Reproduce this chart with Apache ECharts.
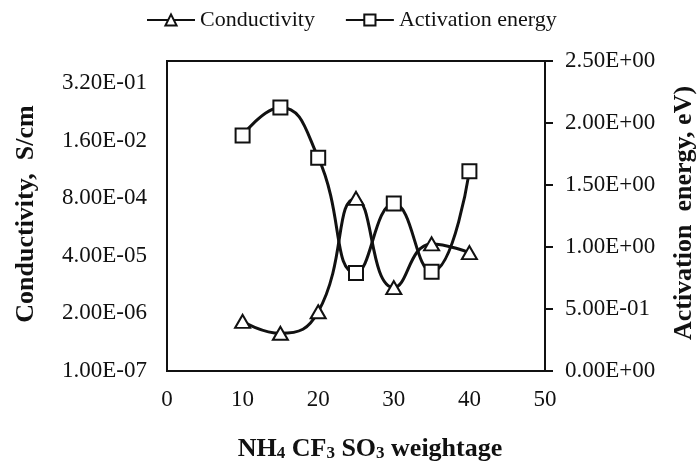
<!DOCTYPE html>
<html>
<head>
<meta charset="utf-8">
<script src="https://cdn.jsdelivr.net/npm/echarts@6/dist/echarts.min.js"></script>
<style>
  html, body { margin: 0; padding: 0; background: #fff; }
  #chart { width: 697px; height: 468px; }
</style>
</head>
<body>
<div id="chart"></div>
<script>
// NH4CF3SO3 content (wt%)
const weightage = [10, 15, 20, 25, 30, 35, 40];
// Conductivity, S/cm (log scale, left axis)
const conductivity = [1.32e-6, 7.1e-7, 2.18e-6, 7.9e-4, 7.65e-6, 7.4e-5, 4.7e-5];
// Activation energy, eV (right axis)
const activationEnergy = [1.90, 2.125, 1.72, 0.79, 1.35, 0.80, 1.61];

// Tick labels
const conductivityTickLabels = ['1.00E-07', '2.00E-06', '4.00E-05', '8.00E-04', '1.60E-02', '3.20E-01'];
const energyTickLabels = ['0.00E+00', '5.00E-01', '1.00E+00', '1.50E+00', '2.00E+00', '2.50E+00'];

const condMin = 1e-7, condMax = 1, condStep = 20;
// number of x20 steps spanned by the log axis
const condSteps = Math.log(condMax / condMin) / Math.log(condStep);

const FONT = "'Liberation Serif', 'Times New Roman', serif";
const INK = '#111';

const chart = echarts.init(document.getElementById('chart'), null, { renderer: 'canvas' });

chart.setOption({
  animation: false,
  backgroundColor: '#fff',
  textStyle: { fontFamily: FONT, color: INK },
  legend: {
    left: 141,
    top: 4,
    itemWidth: 48,
    itemHeight: 14,
    itemGap: 30,
    textStyle: { fontFamily: FONT, fontSize: 22, color: INK },
    data: ['Conductivity', 'Activation energy']
  },
  grid: {
    left: 167, right: 152, top: 61, bottom: 97,
    show: true, borderColor: INK, borderWidth: 2, backgroundColor: 'transparent'
  },
  xAxis: {
    type: 'value', min: 0, max: 50, interval: 10,
    axisLine: { show: true, lineStyle: { color: INK, width: 2 } },
    axisTick: { show: false },
    splitLine: { show: false },
    axisLabel: { fontFamily: FONT, fontSize: 23, color: INK, margin: 17 }
  },
  yAxis: [
    {
      // data axis for conductivity
      type: 'log', logBase: 10, min: condMin, max: condMax,
      position: 'left',
      axisLine: { show: true, lineStyle: { color: INK, width: 2 } },
      axisTick: { show: false },
      axisLabel: { show: false },
      splitLine: { show: false }
    },
    {
      // label axis: one tick per factor of 20
      type: 'value', min: 0, max: condSteps, interval: 1,
      position: 'left',
      axisLine: { show: false },
      axisTick: { show: false },
      splitLine: { show: false },
      axisLabel: {
        fontFamily: FONT, fontSize: 23, color: INK, margin: 20,
        showMaxLabel: false,
        formatter: v => {
          const k = Math.round(v);
          return Math.abs(v - k) < 1e-6 && conductivityTickLabels[k] ? conductivityTickLabels[k] : '';
        }
      }
    },
    {
      type: 'value', min: 0, max: 2.5, interval: 0.5,
      position: 'right',
      axisLine: { show: true, lineStyle: { color: INK, width: 2 } },
      axisTick: { show: true, inside: false, length: 8, lineStyle: { color: INK, width: 2 } },
      splitLine: { show: false },
      axisLabel: {
        fontFamily: FONT, fontSize: 23, color: INK, margin: 20,
        formatter: v => energyTickLabels[Math.round(v / 0.5)] || ''
      }
    }
  ],
  series: [
    {
      name: 'Conductivity',
      type: 'line',
      yAxisIndex: 0,
      smooth: 0.5,
      symbol: 'triangle',
      symbolSize: [15, 13],
      lineStyle: { color: INK, width: 3 },
      itemStyle: { color: '#fff', borderColor: INK, borderWidth: 2 },
      data: weightage.map((w, i) => [w, conductivity[i]]),
      z: 3
    },
    {
      name: 'Activation energy',
      type: 'line',
      yAxisIndex: 2,
      smooth: 0.5,
      symbol: 'rect',
      symbolSize: 14,
      lineStyle: { color: INK, width: 3 },
      itemStyle: { color: '#fff', borderColor: INK, borderWidth: 2 },
      data: weightage.map((w, i) => [w, activationEnergy[i]]),
      z: 4
    }
  ],
  graphic: [
    {
      type: 'text', x: 26, y: 214, rotation: Math.PI / 2,
      style: {
        text: 'Conductivity,  S/cm', fontFamily: FONT, fontSize: 26, fontWeight: 'bold',
        fill: INK, align: 'center', verticalAlign: 'middle'
      }
    },
    {
      type: 'text', x: 684, y: 213, rotation: Math.PI / 2,
      style: {
        text: 'Activation  energy, eV)', fontFamily: FONT, fontSize: 26, fontWeight: 'bold',
        fill: INK, align: 'center', verticalAlign: 'middle'
      }
    },
    {
      type: 'text', x: 370, y: 449,
      style: {
        text: 'NH{s|4} CF{s|3} SO{s|3} weightage',
        fontFamily: FONT, fontSize: 26, fontWeight: 'bold', fill: INK,
        align: 'center', verticalAlign: 'middle',
        rich: {
          s: { fontFamily: FONT, fontSize: 17, fontWeight: 'bold', fill: INK, lineHeight: 4, verticalAlign: 'bottom' }
        }
      }
    }
  ]
});
</script>
</body>
</html>
